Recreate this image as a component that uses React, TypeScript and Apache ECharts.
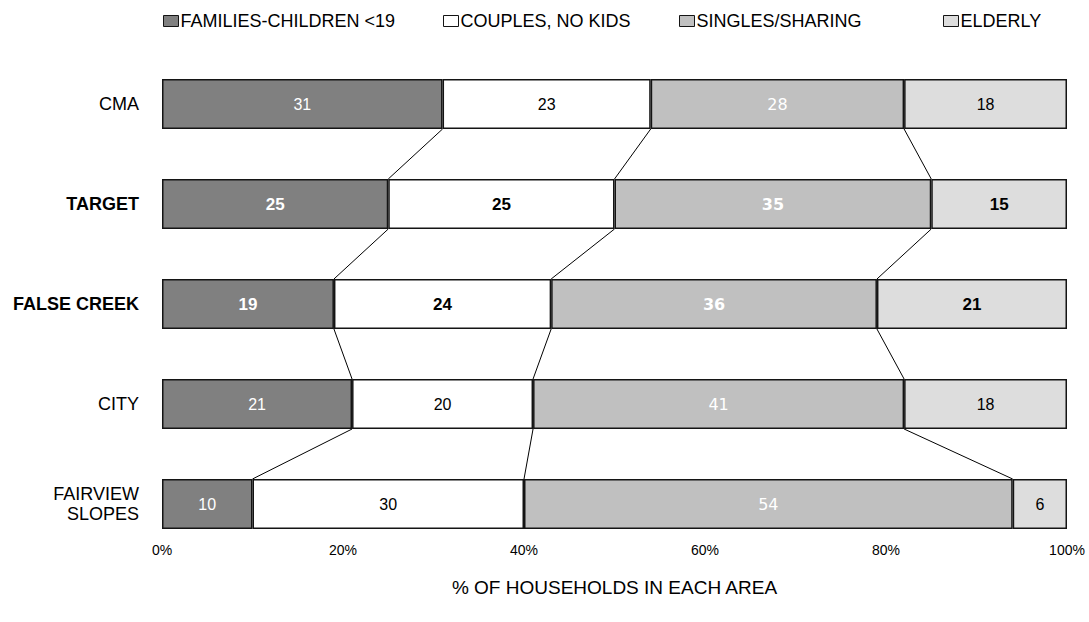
import React, { useEffect, useRef } from "react";
import * as echarts from "echarts";

// Household composition by area (% of households)
const areas = ["CMA", "TARGET", "FALSE CREEK", "CITY", "FAIRVIEW\nSLOPES"];
const boldAreas = ["TARGET", "FALSE CREEK"];
const groupNames = ["FAMILIES-CHILDREN <19", "COUPLES, NO KIDS", "SINGLES/SHARING", "ELDERLY"];
const families = [31, 25, 19, 21, 10];
const couples = [23, 25, 24, 20, 30];
const singles = [28, 35, 36, 41, 54];
const elderly = [18, 15, 21, 18, 6];
const percentTicks = [0, 20, 40, 60, 80, 100];

const groupValues = [families, couples, singles, elderly];
const groupColors = ["#808080", "#FFFFFF", "#C0C0C0", "#DDDDDD"];
const labelColors = ["#FFFFFF", "#000000", "#FFFFFF", "#000000"];
const labelFonts = ["Liberation Sans, Arial", "Liberation Sans, Arial", "DejaVu Sans, Verdana", "Liberation Sans, Arial"];
const legendLefts = [158, 438, 674, 938];

// Series lines join each segment boundary of one bar to the same boundary on the next bar
function buildConnectors(): number[][] {
  const cumulative = areas.map((_, i) => {
    let run = 0;
    return groupValues.slice(0, 3).map((vals) => (run += vals[i]));
  });
  const out: number[][] = [];
  for (let i = 0; i < areas.length - 1; i++) {
    for (let k = 0; k < 3; k++) {
      out.push([cumulative[i][k], i, cumulative[i + 1][k], i + 1]);
    }
  }
  return out;
}

export default function App() {
  const ref = useRef<HTMLDivElement>(null);

  useEffect(() => {
    document.body.style.margin = "0";
    document.body.style.overflow = "hidden";
    if (!ref.current) return;
    const chart = echarts.init(ref.current, undefined, { renderer: "svg" });

    const barSeries = groupNames.map((name, g) => ({
      name,
      type: "bar",
      stack: "total",
      barWidth: 50,
      itemStyle: { color: groupColors[g], borderColor: "#141414", borderWidth: 1.5 },
      label: {
        show: true,
        position: "inside",
        color: labelColors[g],
        fontFamily: labelFonts[g],
        fontSize: 16,
        formatter: "{c}",
      },
      emphasis: { disabled: true },
      data: groupValues[g].map((v, i) => ({
        value: v,
        label: boldAreas.includes(areas[i])
          ? { fontWeight: "bold", fontSize: g === 2 ? 16 : 17 }
          : {},
      })),
      z: 2,
    }));

    const option = {
      animation: false,
      backgroundColor: "#FFFFFF",
      textStyle: { fontFamily: "Liberation Sans, Arial" },
      legend: groupNames.map((name, g) => ({
        data: [name],
        left: legendLefts[g],
        top: 7,
        icon: "rect",
        itemWidth: 15,
        itemHeight: 11,
        selectedMode: false,
        itemStyle: { borderColor: "#141414", borderWidth: 1 },
        textStyle: { fontSize: 18, color: "#000", fontFamily: "Liberation Sans, Arial", padding: [0, 0, 0, -3] },
      })),
      grid: { left: 162, right: 22, top: 54, height: 500, containLabel: false },
      xAxis: {
        type: "value",
        min: percentTicks[0],
        max: percentTicks[percentTicks.length - 1],
        interval: percentTicks[1] - percentTicks[0],
        offset: -20,
        axisLine: { show: false },
        axisTick: { show: false },
        splitLine: { show: false },
        axisLabel: {
          margin: 9,
          fontSize: 14,
          color: "#000",
          fontFamily: "Liberation Sans Narrow, Liberation Sans, Arial",
          formatter: "{value}%",
        },
        name: "% OF HOUSEHOLDS IN EACH AREA",
        nameLocation: "middle",
        nameGap: 44,
        nameTextStyle: { fontSize: 19, color: "#000", fontFamily: "Liberation Sans Narrow, Liberation Sans, Arial" },
      },
      yAxis: {
        type: "category",
        data: areas,
        inverse: true,
        axisLine: { show: false },
        axisTick: { show: false },
        axisLabel: {
          margin: 23,
          color: "#000",
          fontSize: 18,
          lineHeight: 20,
          formatter: (v: string) => (boldAreas.includes(v) ? `{b|${v}}` : v),
          rich: { b: { fontWeight: "bold", fontSize: 18, color: "#000" } },
        },
      },
      series: [
        ...barSeries,
        {
          type: "custom",
          name: "connectors",
          silent: true,
          encode: { x: [0, 2], y: [1, 3] },
          data: buildConnectors(),
          z: 1,
          renderItem: (_params: any, api: any) => {
            const a = api.coord([api.value(0), api.value(1)]);
            const b = api.coord([api.value(2), api.value(3)]);
            const half = api.size([0, 1])[1] / 4;
            return {
              type: "line",
              shape: { x1: a[0], y1: a[1] + half, x2: b[0], y2: b[1] - half },
              style: { stroke: "#000", lineWidth: 1 },
            };
          },
        },
      ],
    };

    chart.setOption(option as any);
    return () => chart.dispose();
  }, []);

  return <div ref={ref} style={{ width: 1089, height: 622 }} />;
}
